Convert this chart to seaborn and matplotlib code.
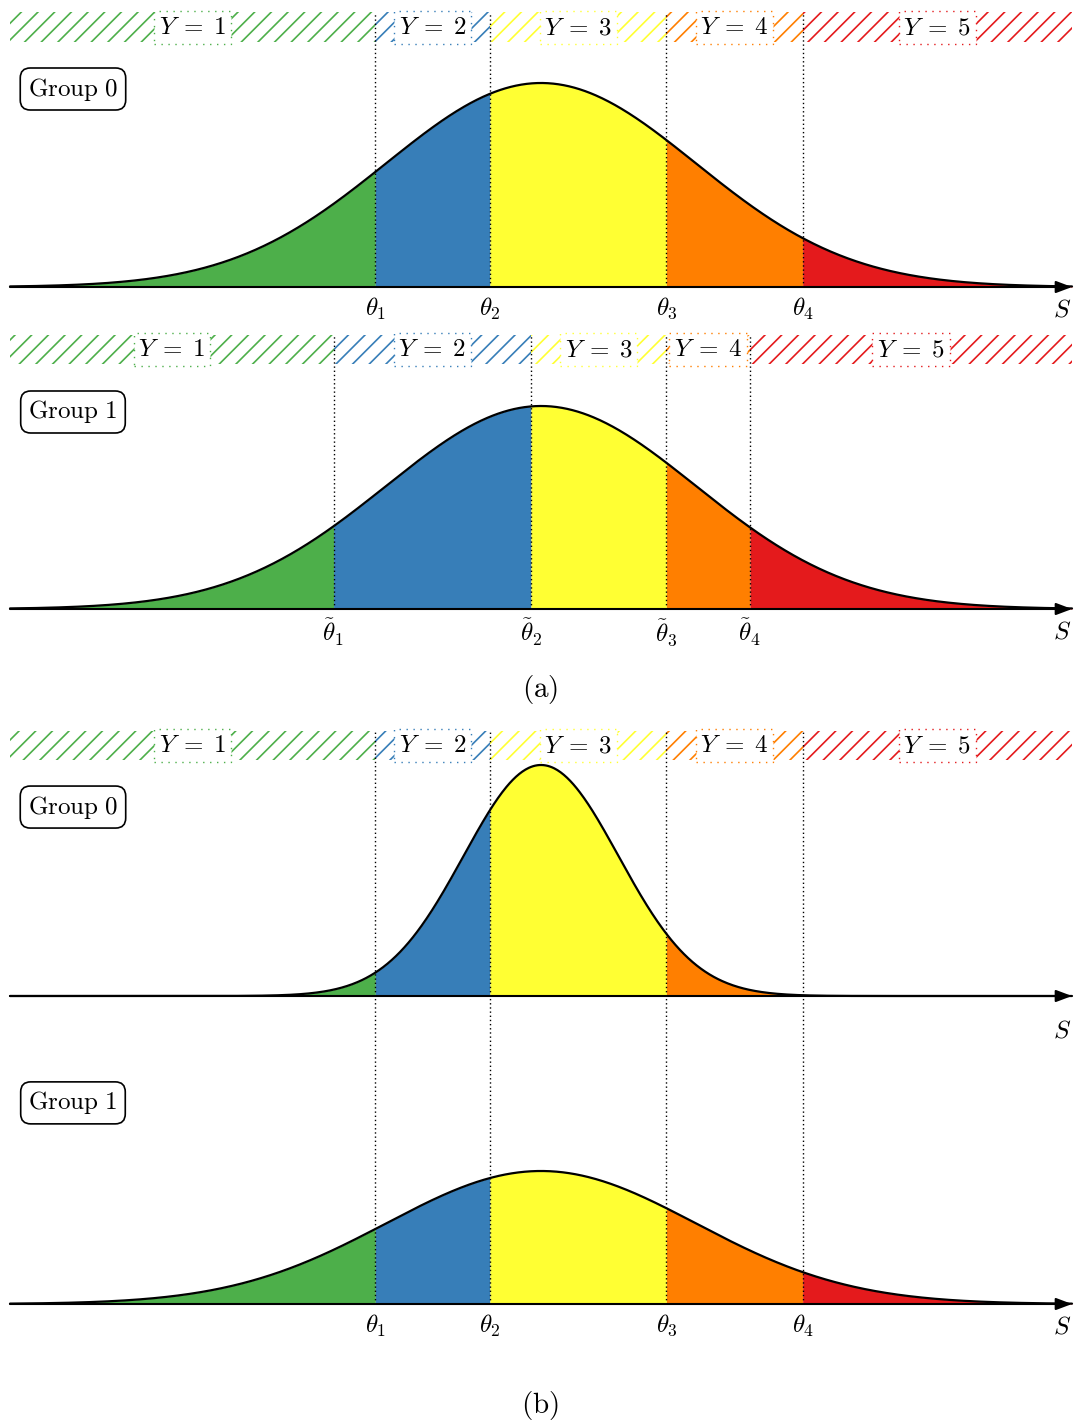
import numpy as np
import matplotlib.pyplot as plt
import seaborn as sns

# ---- data ----
x_min, x_max = -3.43, 3.43
category_labels = [r'$Y\;=\;1$', r'$Y\;=\;2$', r'$Y\;=\;3$', r'$Y\;=\;4$', r'$Y\;=\;5$']

thresholds_group0 = [-1.07, -0.33, 0.81, 1.69]
thresholds_group1 = [-1.34, -0.065, 0.81, 1.35]

theta_labels = [r'$\theta_1$', r'$\theta_2$', r'$\theta_3$', r'$\theta_4$']
theta_tilde_labels = [r'$\tilde{\theta}_1$', r'$\tilde{\theta}_2$',
                      r'$\tilde{\theta}_3$', r'$\tilde{\theta}_4$']

means = [0.0, 0.0, 0.0, 0.0]
std_devs = [1.0, 1.0, 0.5, 1.0]
group_names = [r'$\mathrm{Group\ 0}$', r'$\mathrm{Group\ 1}$',
               r'$\mathrm{Group\ 0}$', r'$\mathrm{Group\ 1}$']
captions = [r'$\mathrm{(a)}$', r'$\mathrm{(b)}$']

sns.set_theme(style='white')
plt.rcParams['mathtext.fontset'] = 'cm'
plt.rcParams['hatch.linewidth'] = 1.2
plt.rcParams['text.color'] = 'black'
plt.rcParams['xtick.color'] = 'black'
palette = sns.color_palette('Set1')
region_colors = [palette[2], palette[1], palette[5], palette[4], palette[0]]

W, H = 1074, 1420
X0, X1 = 10, 1072
FS = 18

fig = plt.figure(figsize=(W / 100, H / 100), dpi=100)


def pdf(x, mu, sd):
    return np.exp(-0.5 * ((x - mu) / sd) ** 2) / (sd * np.sqrt(2 * np.pi))


def draw_panel(top_px, base_px, peak_px, band_px, mu, sd, thr, tick_labels,
               group, group_y, s_offset):
    ax = fig.add_axes([X0 / W, 1 - base_px / H, (X1 - X0) / W, (base_px - top_px) / H])
    ax.patch.set_alpha(0)
    span = base_px - top_px
    peak = pdf(mu, mu, sd)
    ax.set_xlim(x_min, x_max)
    ax.set_ylim(0, peak / (peak_px / span))

    edges = [x_min] + list(thr) + [x_max]
    for i in range(5):
        xs = np.linspace(edges[i], edges[i + 1], 200)
        ax.fill_between(xs, 0, pdf(xs, mu, sd), color=region_colors[i], lw=0, zorder=1)

    xs = np.linspace(x_min, x_max, 1000)
    sns.lineplot(x=xs, y=pdf(xs, mu, sd), ax=ax, color='black', lw=1.6, zorder=4)
    for ln in ax.lines:
        ln.set_clip_on(False)

    for t in thr:
        ax.axvline(t, color='black', lw=1, ls=(0, (1, 2)), zorder=3)

    if band_px is not None:
        lo = (base_px - band_px) / span
        for i in range(5):
            ax.axvspan(edges[i], edges[i + 1], ymin=lo, ymax=1, hatch='//',
                       facecolor='none', edgecolor=region_colors[i], lw=0, zorder=2)
            ax.text((edges[i] + edges[i + 1]) / 2, (lo + 1) / 2, category_labels[i],
                    transform=ax.get_xaxis_transform(), ha='center', va='center',
                    fontsize=FS, zorder=5,
                    bbox=dict(boxstyle='square,pad=0.18', fc='white',
                              ec=region_colors[i], ls=(0, (1, 4)), lw=1))

    ax.annotate('', xy=(x_max, 0), xytext=(x_min, 0),
                arrowprops=dict(arrowstyle='-|>,head_length=0.8,head_width=0.3',
                                color='black', lw=1.5, shrinkA=0, shrinkB=0),
                annotation_clip=False, zorder=5)
    ax.annotate(r'$S$', xy=(1, 0), xycoords='axes fraction', xytext=(-7, -s_offset),
                textcoords='offset points', ha='center', va='center', fontsize=FS)

    ax.text(0.0593, group_y, group, transform=ax.transAxes, ha='center', va='center',
            fontsize=FS, zorder=6,
            bbox=dict(boxstyle='round,pad=0.3,rounding_size=0.4', fc='white',
                      ec='black', lw=1.2))

    if tick_labels is None:
        ax.set_xticks([])
    else:
        ax.set_xticks(thr)
        ax.set_xticklabels(tick_labels, fontsize=FS)
        ax.tick_params(axis='x', length=0, pad=6)
    ax.set_yticks([])
    sns.despine(ax=ax, left=True, bottom=True)
    return ax


draw_panel(12, 287, 204, 42, means[0], std_devs[0], thresholds_group0, theta_labels,
           group_names[0], 0.72, 16.5)
draw_panel(335, 609, 203, 364, means[1], std_devs[1], thresholds_group1, theta_tilde_labels,
           group_names[1], 0.719, 16.5)
draw_panel(731, 996, 231, 760, means[2], std_devs[2], thresholds_group0, None,
           group_names[2], 0.713, 25)
draw_panel(996, 1304, 133, None, means[3], std_devs[3], thresholds_group0, theta_labels,
           group_names[3], 0.653, 16.5)

fig.text(540 / W, 1 - 690 / H, captions[0], ha='center', va='center', fontsize=21)
fig.text(540 / W, 1 - 1405 / H, captions[1], ha='center', va='center', fontsize=21)

fig.savefig('out.png', dpi=100)
